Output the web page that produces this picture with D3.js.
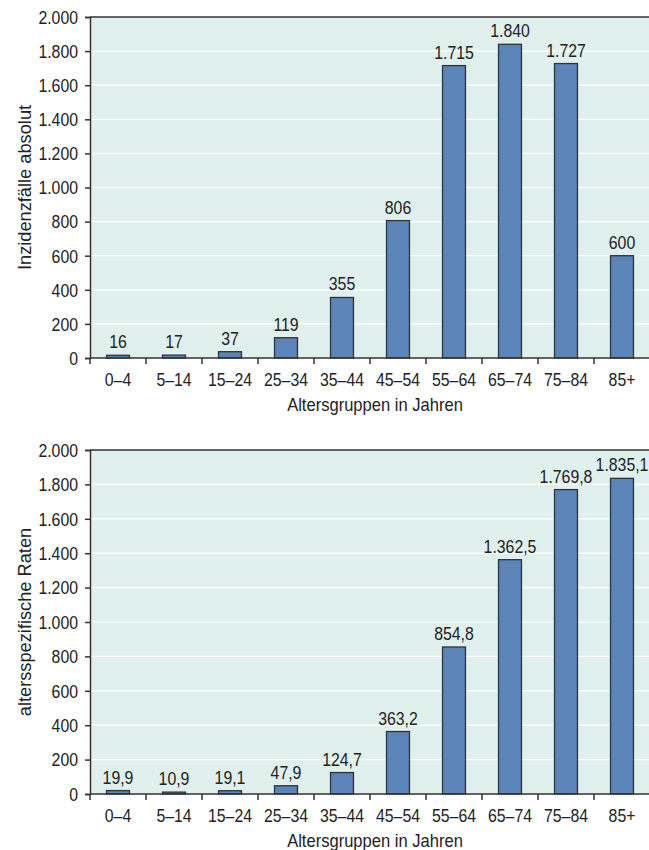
<!DOCTYPE html>
<html>
<head>
<meta charset="utf-8">
<script src="https://cdn.jsdelivr.net/npm/d3@7"></script>
<style>
  body { margin: 0; background: #fff; }
  svg text { font-family: "Liberation Sans", Arial, Helvetica, sans-serif; fill: #222; }
</style>
</head>
<body>
<div id="chart"></div>
<script>
// age groups shared by both panels
let ageGroups = ["0–4", "5–14", "15–24", "25–34", "35–44", "45–54", "55–64", "65–74", "75–84", "85+"];
// absolute incidence counts
let casesAbs = [16, 17, 37, 119, 355, 806, 1715, 1840, 1727, 600];
// age-specific rates
let casesRate = [19.9, 10.9, 19.1, 47.9, 124.7, 363.2, 854.8, 1362.5, 1769.8, 1835.1];
let yTicks = [0, 200, 400, 600, 800, 1000, 1200, 1400, 1600, 1800, 2000];

let de = d3.formatLocale({decimal: ",", thousands: ".", grouping: [3], currency: ["", " €"]});

let width = 649, height = 850;
let squeeze = 0.88; // condensed look of the original labels

let svg = d3.select("#chart").append("svg")
    .attr("width", width)
    .attr("height", height);

function drawPanel(values, top, bottom, yTitle, fmt) {
  let left = 90, right = 650;
  let g = svg.append("g");

  let x = d3.scaleBand().domain(ageGroups).range([left, right]).paddingInner(0.59).paddingOuter(0.295);
  let y = d3.scaleLinear().domain([0, 2000]).range([bottom, top]);

  // background
  g.append("rect")
    .attr("x", left).attr("y", top)
    .attr("width", right - left).attr("height", bottom - top)
    .attr("fill", "#dff0ed");

  // white gridlines
  g.selectAll(".grid").data(yTicks.slice(1, -1)).enter()
    .append("line")
    .attr("x1", left).attr("x2", right)
    .attr("y1", d => y(d)).attr("y2", d => y(d))
    .attr("stroke", "#fff").attr("stroke-width", 1.2);

  // top border
  g.append("line").attr("x1", left).attr("x2", right)
    .attr("y1", top).attr("y2", top)
    .attr("stroke", "#333").attr("stroke-width", 1.5);

  // bars
  g.selectAll(".bar").data(values).enter()
    .append("rect")
    .attr("x", (d, i) => x(ageGroups[i]))
    .attr("y", d => y(d))
    .attr("width", x.bandwidth())
    .attr("height", d => bottom - y(d))
    .attr("fill", "#5b84b9")
    .attr("stroke", "#333")
    .attr("stroke-width", 1.3);

  // value labels
  g.selectAll(".val").data(values).enter()
    .append("text")
    .attr("transform", (d, i) => `translate(${x(ageGroups[i]) + x.bandwidth() / 2},${y(d) - 7}) scale(${squeeze},1)`)
    .attr("text-anchor", "middle")
    .attr("font-size", 18)
    .text(d => fmt(d));

  // y axis
  let yAxis = d3.axisLeft(y).tickValues(yTicks).tickSize(5).tickPadding(7)
    .tickFormat(de.format(",.0f"));
  let ya = g.append("g").attr("transform", `translate(${left},0)`).call(yAxis);
  ya.selectAll("text")
    .attr("font-size", 18).attr("font-family", null)
    .attr("x", -12 / squeeze).attr("dy", "0.35em")
    .attr("transform", `scale(${squeeze},1)`);
  ya.select(".domain").attr("stroke", "#333").attr("stroke-width", 1.5);
  ya.selectAll(".tick line").attr("stroke", "#333").attr("stroke-width", 1.5);

  // x axis (ticks at band edges)
  g.append("line").attr("x1", left).attr("x2", right)
    .attr("y1", bottom).attr("y2", bottom)
    .attr("stroke", "#333").attr("stroke-width", 1.5);
  let edges = ageGroups.map(a => x(a) - x.step() * x.paddingInner() / 2);
  g.selectAll(".xt").data(edges).enter()
    .append("line")
    .attr("x1", d => d).attr("x2", d => d)
    .attr("y1", bottom).attr("y2", bottom + 6)
    .attr("stroke", "#333").attr("stroke-width", 1.5);
  g.selectAll(".xl").data(ageGroups).enter()
    .append("text")
    .attr("transform", d => `translate(${x(d) + x.bandwidth() / 2},${bottom + 28}) scale(${squeeze},1)`)
    .attr("text-anchor", "middle")
    .attr("font-size", 18)
    .text(d => d);

  // axis titles
  g.append("text")
    .attr("transform", `translate(375,${bottom + 53}) scale(0.92,1)`)
    .attr("text-anchor", "middle")
    .attr("font-size", 18)
    .text("Altersgruppen in Jahren");

  g.append("text")
    .attr("transform", `translate(31,${(top + bottom) / 2}) rotate(-90) scale(0.96,1)`)
    .attr("text-anchor", "middle")
    .attr("font-size", 19)
    .text(yTitle);
}

drawPanel(casesAbs, 17, 358, "Inzidenzfälle absolut", de.format(",.0f"));
drawPanel(casesRate, 450, 794, "altersspezifische Raten", de.format(",.1f"));
</script>
</body>
</html>
